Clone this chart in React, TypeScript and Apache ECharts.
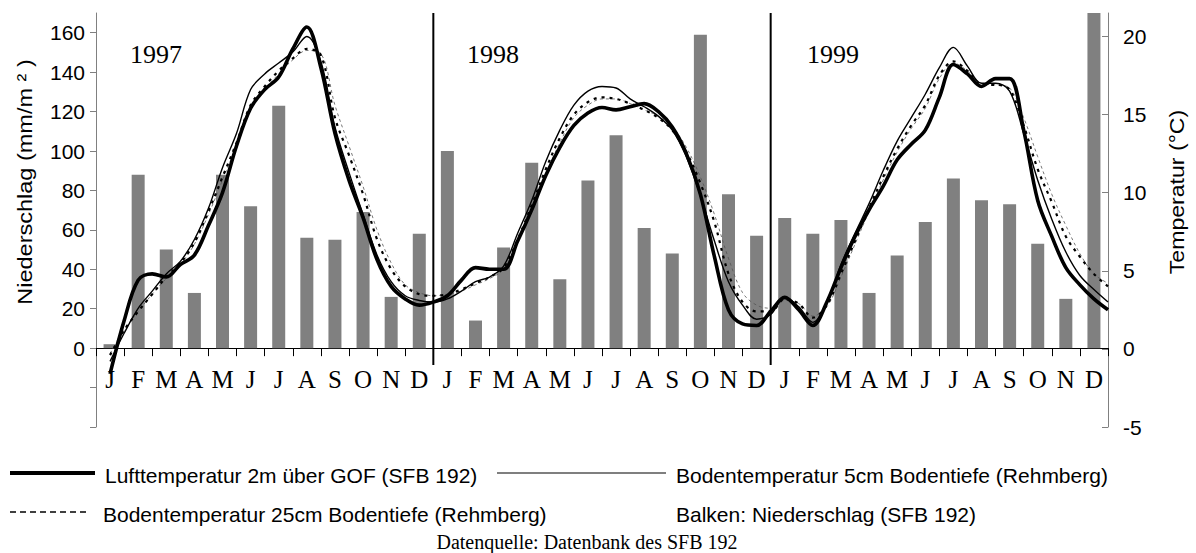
import React, { useEffect, useRef } from "react";
import * as echarts from "echarts";

const monthLabels = ["J", "F", "M", "A", "M", "J", "J", "A", "S", "O", "N", "D"];
const years = ["1997", "1998", "1999"];

// Niederschlag (mm/m²), monthly bars
const precip1997 = [2, 88, 50, 28, 88, 72, 123, 56, 55, 69, 26, 58];
const precip1998 = [100, 14, 51, 94, 35, 85, 108, 61, 48, 159, 78, 57];
const precip1999 = [66, 58, 65, 28, 47, 64, 86, 75, 73, 53, 25, 170];

// temperature curves sampled every half month, starting mid-January 1997 (month position 0.5)
const tempStart = 0.5;
const tempStep = 0.5;
const airTemp2m = [
  -1.6, 1.8, 4.4, 4.8, 4.6, 5.4, 6.0, 7.9, 10.0, 13.0, 15.4, 16.6, 17.4, 19.2, 20.6, 18.0, 13.8, 10.8, 8.4, 5.7, 4.0, 3.2, 2.8, 3.0,
  3.4, 4.4, 5.2, 5.1, 5.1, 6.9, 8.9, 11.1, 12.9, 14.3, 15.1, 15.45, 15.3, 15.5, 15.7, 15.2, 14.2, 12.5, 9.9, 5.9, 2.5, 1.6, 1.5, 2.4,
  3.3, 2.5, 1.5, 3.0, 5.2, 7.2, 8.9, 10.4, 12.1, 13.1, 14.0, 16.1, 18.2, 17.6, 16.8, 17.3, 17.3, 14.0, 9.5, 7.2, 5.2, 4.1, 3.2, 2.5,
];
const soilTemp5cm = [
  -0.8, 1.0, 2.6, 3.7, 4.8, 5.6, 7.0, 9.0, 11.6, 13.8, 16.6, 17.6, 18.3, 19.0, 20.0, 18.4, 14.2, 11.3, 8.6, 6.0, 4.3, 3.4, 3.1, 3.0,
  3.2, 3.7, 4.3, 4.6, 5.3, 7.4, 9.5, 12.0, 14.0, 15.6, 16.5, 16.8, 16.7, 16.0, 15.5, 14.9, 14.0, 12.3, 9.8, 6.9, 4.3, 2.8, 1.9, 2.2,
  3.3, 2.7, 1.7, 2.9, 5.4, 7.4, 9.3, 11.4, 13.3, 14.8, 16.3, 18.0, 19.3, 18.1, 17.0, 17.0, 16.5, 13.8, 10.8, 8.3, 6.2, 4.7, 3.8, 3.0,
];
const soilTemp25cm = [
  -0.4, 1.2, 2.4, 3.5, 4.6, 5.5, 6.8, 8.8, 11.0, 13.2, 15.6, 16.8, 17.8, 18.6, 19.2, 18.8, 14.8, 12.4, 9.9, 7.0, 5.1, 4.0, 3.5, 3.4,
  3.5, 3.8, 4.2, 4.6, 5.2, 7.0, 9.2, 11.5, 13.5, 15.0, 15.8, 16.1, 16.0, 15.7, 15.3, 14.8, 14.0, 12.6, 10.6, 8.1, 4.8, 3.0, 2.4, 2.4,
  3.2, 2.9, 2.0, 2.8, 4.8, 6.9, 9.0, 11.0, 12.8, 14.3, 15.6, 17.5, 18.4, 17.8, 16.9, 16.9, 16.6, 14.3, 11.5, 9.4, 7.2, 5.9, 4.8, 4.0,
];
const soilTempDeep = [
  -0.3, 1.2, 2.4, 3.5, 4.5, 5.4, 6.7, 8.6, 10.8, 13.0, 15.3, 16.6, 17.6, 18.5, 19.1, 18.9, 15.6, 13.0, 10.4, 7.6, 5.5, 4.1, 3.6, 3.4,
  3.5, 3.7, 4.1, 4.5, 5.1, 6.8, 9.0, 11.2, 13.2, 14.8, 15.6, 16.0, 16.0, 15.7, 15.3, 14.9, 14.2, 12.9, 11.0, 8.6, 5.8, 3.6, 2.8, 2.6,
  3.1, 2.9, 2.1, 2.7, 4.6, 6.7, 8.8, 10.8, 12.6, 14.1, 15.4, 17.3, 18.3, 17.8, 17.0, 16.9, 16.7, 14.8, 12.3, 9.9, 7.9, 6.1, 4.8, 4.2,
];

const leftMin = -40;
const leftMax = 170;
const leftTicks = [-40, -20, 0, 20, 40, 60, 80, 100, 120, 140, 160];
const leftLabels = [0, 20, 40, 60, 80, 100, 120, 140, 160];
const rightTicks = [-5, 0, 5, 10, 15, 20];
const yearBoundaries = [12, 24];

const SANS = '"Liberation Sans", Arial, sans-serif';
const SERIF = '"Liberation Serif", "Times New Roman", serif';

const GRID_TOP = 13;
const GRID_HEIGHT = 414;

export default function App() {
  const ref = useRef<HTMLDivElement>(null);

  useEffect(() => {
    if (!ref.current) return;
    const chart = echarts.init(ref.current, undefined, { renderer: "svg" });

    const categories: string[] = [];
    years.forEach(() => monthLabels.forEach((m) => categories.push(m)));
    const precip = [...precip1997, ...precip1998, ...precip1999];
    const toPairs = (arr: number[]) => arr.map((v, i) => [tempStart + i * tempStep, v]);
    // move the category axis up from the grid bottom to the zero line of the left axis
    const zeroOffset = -(GRID_HEIGHT * (0 - leftMin)) / (leftMax - leftMin);

    const lineBase = {
      type: "line" as const,
      xAxisIndex: 1,
      yAxisIndex: 1,
      symbol: "none",
      smooth: 0.35,
      silent: true,
    };

    const option: any = {
      animation: false,
      backgroundColor: "#fff",
      grid: { left: 96, right: 88, top: GRID_TOP, height: GRID_HEIGHT },
      xAxis: [
        {
          type: "category",
          data: categories,
          boundaryGap: true,
          position: "bottom",
          offset: zeroOffset,
          axisLine: { onZero: false, lineStyle: { color: "#000", width: 1 } },
          axisTick: { show: true, interval: 0, length: 8, lineStyle: { color: "#000" } },
          axisLabel: {
            interval: 0,
            margin: 19,
            color: "#000",
            fontFamily: SERIF,
            fontSize: 25,
          },
          splitLine: { show: false },
        },
        { type: "value", min: 0, max: 36, show: false },
      ],
      yAxis: [
        {
          type: "value",
          position: "left",
          min: leftMin,
          max: leftMax,
          interval: 20,
          axisLine: { show: true, onZero: false, lineStyle: { color: "#808080" } },
          axisTick: { show: true, length: 6, customValues: leftTicks, lineStyle: { color: "#808080" } },
          axisLabel: {
            customValues: leftLabels,
            margin: 11,
            color: "#000",
            fontFamily: SANS,
            fontSize: 21,
          },
          splitLine: { show: false },
        },
        {
          type: "value",
          position: "right",
          min: -5,
          max: 21.5,
          interval: 5,
          axisLine: { show: true, onZero: false, lineStyle: { color: "#808080" } },
          axisTick: { show: true, inside: true, length: 6, customValues: rightTicks, lineStyle: { color: "#808080" } },
          axisLabel: {
            customValues: rightTicks,
            margin: 15,
            color: "#000",
            fontFamily: SANS,
            fontSize: 21,
          },
          splitLine: { show: false },
        },
      ],
      series: [
        {
          name: "Niederschlag",
          type: "bar",
          xAxisIndex: 0,
          yAxisIndex: 0,
          data: precip,
          barWidth: 13,
          itemStyle: { color: "#808080" },
          silent: true,
          z: 1,
        },
        {
          ...lineBase,
          name: "Bodentemperatur tief",
          data: toPairs(soilTempDeep),
          lineStyle: { color: "#555", width: 0.8, type: [3, 3] },
          z: 3,
        },
        {
          ...lineBase,
          name: "Bodentemperatur 25cm",
          data: toPairs(soilTemp25cm),
          lineStyle: { color: "#000", width: 2.2, type: [3, 5] },
          z: 4,
        },
        {
          ...lineBase,
          name: "Bodentemperatur 5cm",
          data: toPairs(soilTemp5cm),
          lineStyle: { color: "#000", width: 1.4 },
          z: 5,
        },
        {
          ...lineBase,
          name: "Lufttemperatur 2m",
          data: toPairs(airTemp2m),
          lineStyle: { color: "#000", width: 3.6 },
          z: 6,
        },
        ...yearBoundaries.map((b) => ({
          type: "line",
          xAxisIndex: 1,
          yAxisIndex: 0,
          symbol: "none",
          silent: true,
          data: [
            [b, leftMax],
            [b, -8.5],
          ],
          lineStyle: { color: "#000", width: 2 },
          z: 7,
        })),
      ],
      graphic: [
        // year labels
        { type: "text", x: 130, y: 54, style: { text: years[0], font: `26px ${SERIF}`, fill: "#000", verticalAlign: "middle" } },
        { type: "text", x: 467, y: 54, style: { text: years[1], font: `26px ${SERIF}`, fill: "#000", verticalAlign: "middle" } },
        { type: "text", x: 807, y: 54, style: { text: years[2], font: `26px ${SERIF}`, fill: "#000", verticalAlign: "middle" } },
        // axis names
        {
          type: "text",
          x: 25,
          y: 182,
          rotation: Math.PI / 2,
          scaleX: 1.12,
          style: { text: "Niederschlag (mm/m ² )", font: `21px ${SANS}`, fill: "#000", align: "center", verticalAlign: "middle" },
        },
        {
          type: "text",
          x: 1177,
          y: 192,
          rotation: Math.PI / 2,
          scaleX: 1.1,
          style: { text: "Temperatur (°C)", font: `21px ${SANS}`, fill: "#000", align: "center", verticalAlign: "middle" },
        },
        // legend
        { type: "line", shape: { x1: 10, y1: 473, x2: 95, y2: 473 }, style: { stroke: "#000", lineWidth: 4 } },
        { type: "text", x: 105, y: 475, style: { text: "Lufttemperatur 2m über GOF (SFB 192)", font: `21px ${SANS}`, fill: "#000", verticalAlign: "middle" } },
        { type: "line", shape: { x1: 497, y1: 473, x2: 666, y2: 473 }, style: { stroke: "#000", lineWidth: 1.2 } },
        { type: "text", x: 676, y: 475, style: { text: "Bodentemperatur 5cm Bodentiefe (Rehmberg)", font: `21px ${SANS}`, fill: "#000", verticalAlign: "middle" } },
        { type: "line", shape: { x1: 10, y1: 512, x2: 90, y2: 512 }, style: { stroke: "#000", lineWidth: 1.3, lineDash: [6, 4] } },
        { type: "text", x: 103, y: 514, style: { text: "Bodentemperatur 25cm Bodentiefe (Rehmberg)", font: `21px ${SANS}`, fill: "#000", verticalAlign: "middle" } },
        { type: "text", x: 676, y: 514, style: { text: "Balken: Niederschlag (SFB 192)", font: `21px ${SANS}`, fill: "#000", verticalAlign: "middle" } },
        { type: "text", x: 587, y: 542, style: { text: "Datenquelle: Datenbank des SFB 192", font: `20px ${SERIF}`, fill: "#000", align: "center", verticalAlign: "middle" } },
      ],
    };

    chart.setOption(option);
    return () => chart.dispose();
  }, []);

  return <div ref={ref} style={{ position: "absolute", left: 0, top: 0, width: 1196, height: 553 }} />;
}
